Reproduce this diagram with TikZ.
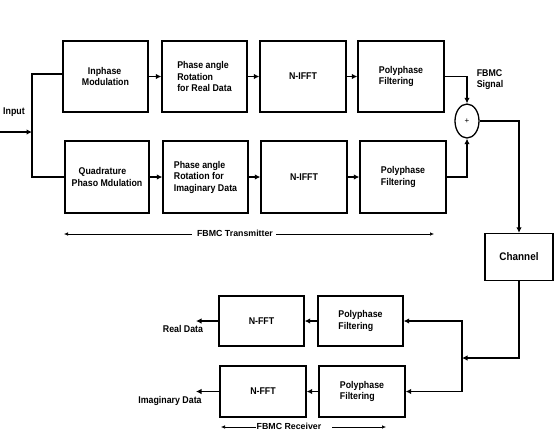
\documentclass[tikz,border=0pt]{standalone}
\usepackage{fontspec}
\setmainfont{Liberation Sans}
\newfontfamily\narrowsans[FakeStretch=0.9]{Liberation Sans}
\usetikzlibrary{arrows.meta,shapes.geometric}
\begin{document}
\begin{tikzpicture}[x=1pt,y=-1pt,
  blk/.style={draw,line width=1.3pt,inner sep=0pt,font=\narrowsans\bfseries\fontsize{9.8}{11.5}\selectfont,align=left},
  con/.style={line width=1.3pt},
  arr/.style={line width=1.3pt,-{Latex[length=5.5pt,width=5.5pt]}},
  thin/.style={line width=0.6pt,-{Latex[length=4pt,width=3.5pt]}},
  lbl/.style={font=\narrowsans\bfseries\fontsize{9.8}{11.5}\selectfont,inner sep=0pt,align=left}]
\useasboundingbox (0,0) rectangle (557,440);
% transmitter top row
\node[blk,minimum width=85pt,minimum height=71pt] (inph) at (105.5,76.5) {\hspace*{6pt}Inphase\\Modulation};
\node[blk,minimum width=85pt,minimum height=71pt] (rot1) at (204.5,76.5) {Phase angle\\Rotation\\for Real Data};
\node[blk,minimum width=86pt,minimum height=71pt] (ifft1) at (303,76.5) {N-IFFT};
\node[blk,minimum width=86pt,minimum height=71pt] (poly1) at (401,76.5) {Polyphase\\Filtering};
% transmitter bottom row
\node[blk,minimum width=84pt,minimum height=72pt] (quad) at (107,177) {\hspace*{7pt}Quadrature\\Phaso Mdulation};
\node[blk,minimum width=85pt,minimum height=72pt] (rot2) at (205.5,177) {Phase angle\\Rotation for\\Imaginary Data};
\node[blk,minimum width=86pt,minimum height=72pt] (ifft2) at (304,177) {N-IFFT};
\node[blk,minimum width=86pt,minimum height=72pt] (poly2) at (403,177) {Polyphase\\Filtering};
% sum
\node[draw,line width=1.3pt,ellipse,minimum width=24pt,minimum height=34pt,inner sep=0pt,font=\fontsize{8}{9}\selectfont] (sum) at (467,121) {+};
\node[lbl] (fsig) at (490,79.5) {FBMC\\Signal};
% channel
\node[blk,minimum width=68pt,minimum height=47pt,font=\narrowsans\bfseries\fontsize{11}{13}\selectfont] (chan) at (519,257) {Channel};
% receiver
\node[blk,minimum width=85pt,minimum height=50pt] (rpoly1) at (360.5,321) {Polyphase\\Filtering};
\node[blk,minimum width=86pt,minimum height=51pt] (rpoly2) at (362,391.5) {Polyphase\\Filtering};
\node[blk,minimum width=85pt,minimum height=50pt] (fft1) at (261.5,321) {N-FFT};
\node[blk,minimum width=86pt,minimum height=51pt] (fft2) at (263,391.5) {N-FFT};
% input
\node[lbl] (inp) at (14,112) {Input};
\coordinate (in0) at (0,132);
\coordinate (split) at (32,132);
\draw[arr] (in0) -- (split);
\draw[con] (inph.west |- 0,74) -| (32,177) -- (quad.west |- 0,177);
% tx arrows
\draw[arr] (inph.east) -- (rot1.west);
\draw[arr] (rot1.east) -- (ifft1.west);
\draw[arr] (ifft1.east) -- (poly1.west);
\draw[arr] (quad.east) -- (rot2.west);
\draw[arr] (rot2.east) -- (ifft2.west);
\draw[arr] (ifft2.east) -- (poly2.west);
\draw[arr] (poly1.east) -| (sum.north);
\draw[arr] (poly2.east) -| (sum.south);
\draw[arr] (sum.east) -| (chan.north);
% channel to receiver
\coordinate (rj) at (462,358);
\draw[arr] (chan.south) |- (rj);
\draw[arr] (rj) |- (rpoly1.east);
\draw[arr] (rj) |- (rpoly2.east);
\draw[arr] (rpoly1.west) -- (fft1.east);
\draw[arr] (rpoly2.west) -- (fft2.east);
\coordinate (ro1) at (196,321);
\coordinate (ro2) at (196,391.5);
\draw[arr] (fft1.west) -- (ro1);
\draw[arr] (fft2.west) -- (ro2);
\node[lbl] (rd) at (183,329) {Real Data};
\node[lbl] (id) at (170,401) {Imaginary Data};
% FBMC transmitter span
\node[lbl,font=\bfseries\fontsize{8.8}{10}\selectfont] (tx) at (235,233) {FBMC Transmitter};
\coordinate (txl) at (64,234);
\coordinate (txr) at (434,234);
\draw[thin] (tx.west) ++(-5,1) -- (txl);
\draw[thin] (tx.east) ++(3,1) -- (txr);
\node[lbl,font=\bfseries\fontsize{8.8}{10}\selectfont] (rx) at (289,426) {FBMC Receiver};
\coordinate (rxl) at (221,427);
\coordinate (rxr) at (386,427);
\draw[thin] (rx.west) ++(-1,1) -- (rxl);
\draw[thin] (rx.east) ++(11,1) -- (rxr);
\end{tikzpicture}
\end{document}
